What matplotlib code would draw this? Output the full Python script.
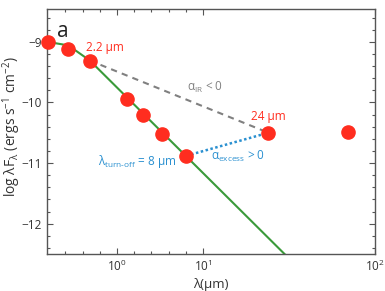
import numpy as np
import matplotlib
matplotlib.use("Agg")
import matplotlib.pyplot as plt
from matplotlib.ticker import FixedLocator, NullFormatter

plt.rcParams['font.family'] = ['Open Sans', 'DejaVu Sans']
plt.rcParams['mathtext.fontset'] = 'custom'
plt.rcParams['mathtext.rm'] = 'Open Sans'
plt.rcParams['mathtext.it'] = 'Open Sans'

# Photometry (wavelength in micron, log lambda F_lambda)
wavelengths = [1.25, 1.65, 2.2, 3.6, 4.5, 5.8, 8.0, 24.0, 70.0]
log_flux = [-9.00, -9.12, -9.31, -9.94, -10.21, -10.52, -10.88, -10.50, -10.49]

# Photosphere model line
phot_wl = [1.24, 1.65, 2.2, 40.0]
phot_flux = [-9.00, -9.06, -9.31, -12.86]

# Connecting segments
ir_wl = [2.2, 24.0]
ir_flux = [-9.31, -10.50]
exc_wl = [8.0, 24.0]
exc_flux = [-10.88, -10.50]

xtick_pos = [10**0.5, 10.0, 100.0]
xtick_labels = ['$10^0$', '$10^1$', '$10^2$']
xminor_pos = [10**0.2, 10**0.3, 10**0.4, 10**0.6, 10**0.7, 10**0.8, 10**0.9]
yticks = [-9, -10, -11, -12]

red = '#ff2d1f'
blue = '#2a90d0'
green = '#3a9a3a'
gray = '#808080'
axc = '#555555'

fig = plt.figure(figsize=(3.85, 2.91), dpi=100)
ax = fig.add_axes([0.122, 0.127, 0.852, 0.842])
ax.set_xscale('log')
ax.set_xlim(10**0.093, 100)
ax.set_ylim(-12.5, -8.46)

ax.plot(phot_wl, phot_flux, color=green, lw=1.5, zorder=2)
ax.plot(ir_wl, ir_flux, color=gray, lw=1.5, ls=(0, (3, 2.5)), zorder=2)
ax.plot(exc_wl, exc_flux, color=blue, lw=1.8, ls=(0, (1, 1)), zorder=2)
ax.plot(wavelengths, log_flux, 'o', color=red, ms=9.5, mec=red, zorder=3, clip_on=False)

ax.xaxis.set_major_locator(FixedLocator(xtick_pos))
ax.set_xticklabels(xtick_labels)
ax.xaxis.set_minor_locator(FixedLocator(xminor_pos))
ax.xaxis.set_minor_formatter(NullFormatter())
ax.set_yticks(yticks)
ax.set_yticklabels(['\u22129', '\u221210', '\u221211', '\u221212'])
ax.yaxis.set_minor_locator(FixedLocator(np.arange(-12.4, -8.45, 0.2)))

ax.tick_params(which='both', direction='in', top=True, right=True, colors=axc,
               labelcolor='#333333', labelsize=8.5)
ax.tick_params(which='major', length=4, width=0.8)
ax.tick_params(which='minor', length=2.5, width=0.8)
for s in ax.spines.values():
    s.set_color(axc)
    s.set_linewidth(1.0)

ax.set_xlabel('\u03bb(\u03bcm)', fontsize=9.5, color='#333333', labelpad=3)
ax.set_ylabel('log \u03bbF$_\u03bb$ (ergs s$^{-1}$ cm$^{-2}$)', fontsize=10, color='#333333')
ax.yaxis.set_label_coords(-0.072, 0.52)

ax.text(0.03, 0.95, 'a', transform=ax.transAxes, fontsize=15, color='#222222', va='top', ha='left')
ax.text(2.69, -9.10, '2.2 \u03bcm', color=red, fontsize=8.5, ha='center', va='center')
ax.text(10.3, -9.75, '\u03b1$_{\\mathrm{IR}}$ < 0', color=gray, fontsize=8.5, ha='center', va='center')
ax.text(24.0, -10.23, '24 \u03bcm', color=red, fontsize=8.5, ha='center', va='center')
ax.text(4.15, -10.97, '\u03bb$_{\\mathrm{turn\u2010off}}$ = 8 \u03bcm', color=blue, fontsize=8.5, ha='center', va='center')
ax.text(16.0, -10.89, '\u03b1$_{\\mathrm{excess}}$ > 0', color=blue, fontsize=8.5, ha='center', va='center')

fig.savefig('out.png', dpi=100)
